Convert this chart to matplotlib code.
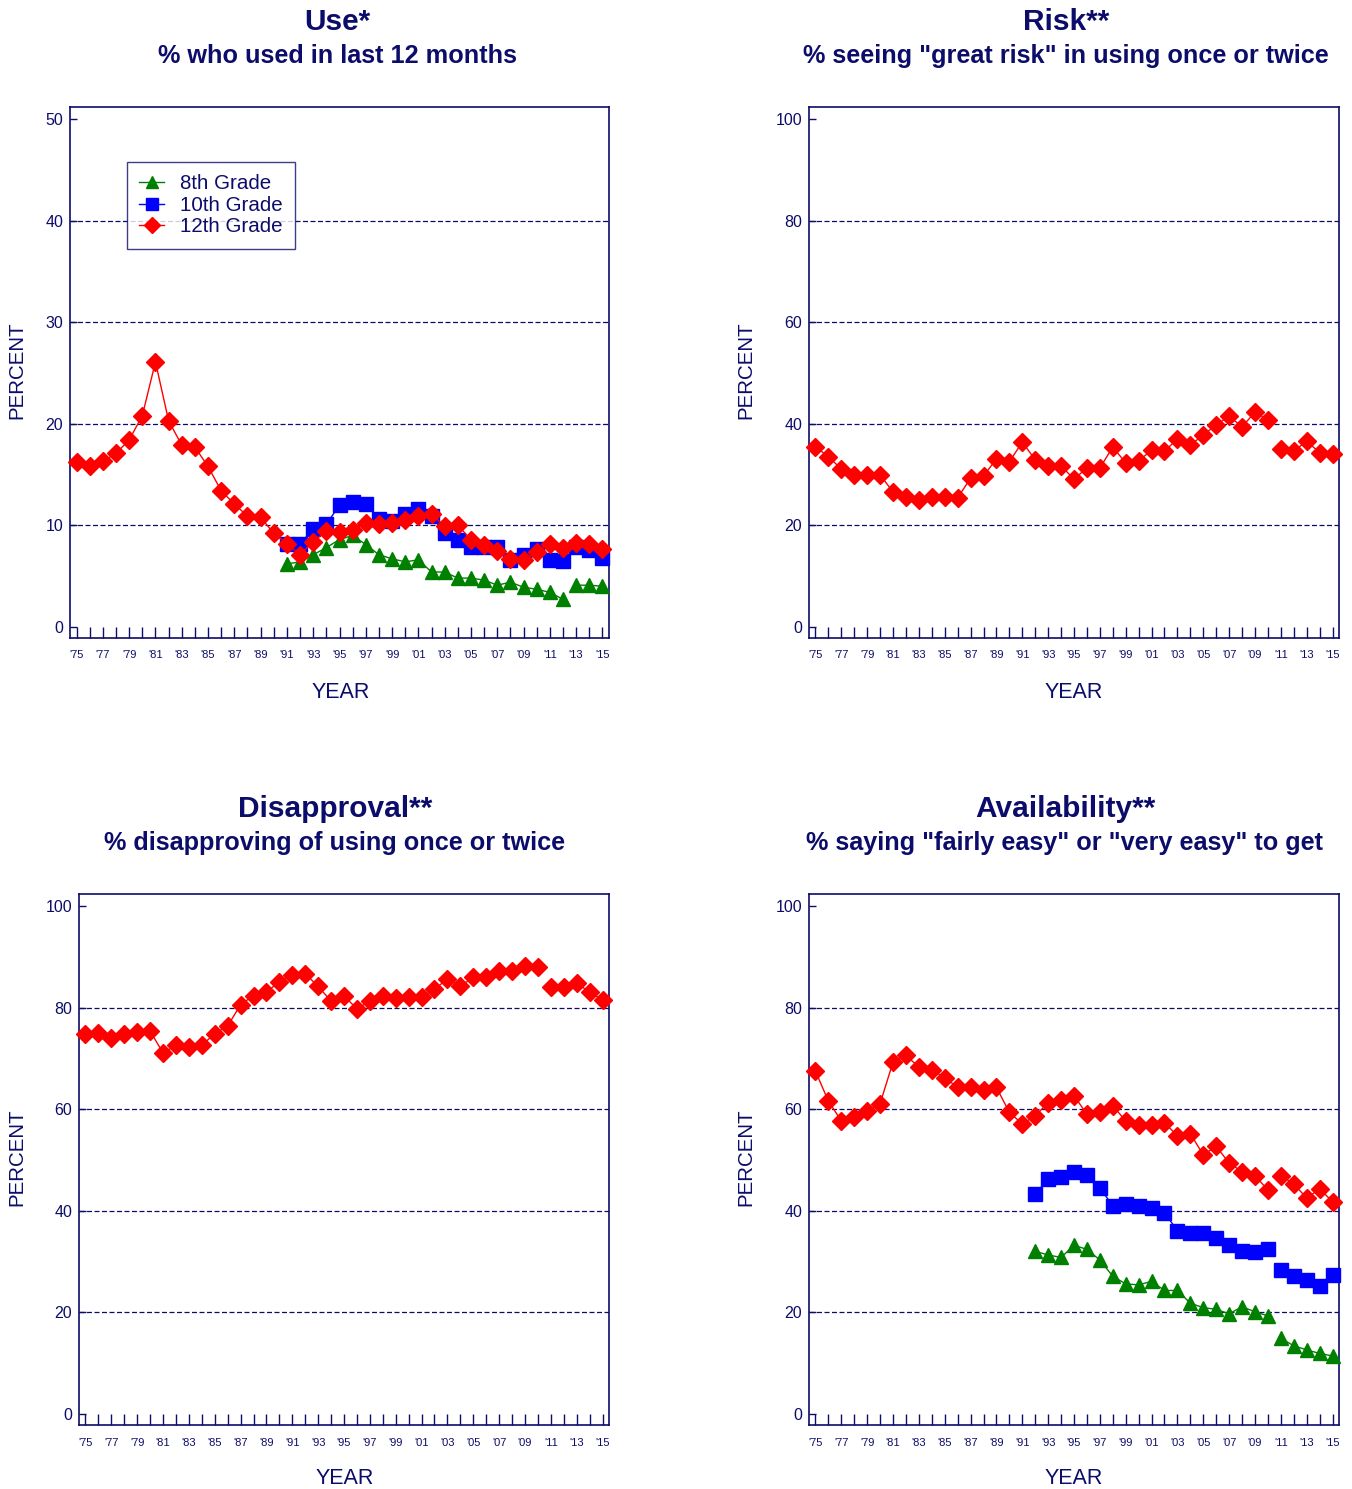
import numpy as np
import matplotlib
matplotlib.use("Agg")
import matplotlib.pyplot as plt
from matplotlib.lines import Line2D

plt.rcParams['font.family'] = ['Liberation Sans', 'DejaVu Sans']

NAVY = '#0c0c6a'
RED = '#ff0000'
BLUE = '#0000ff'
GREEN = '#008000'

years = list(range(1975, 2016))
years_hs = list(range(1991, 2016))
years_av = list(range(1992, 2016))

# ---- Use (% who used in last 12 months) ----
use_12 = [16.2, 15.8, 16.3, 17.1, 18.4, 20.8, 26.1, 20.3, 17.9, 17.7,
          15.8, 13.4, 12.1, 10.9, 10.8, 9.2, 8.2, 7.1, 8.4, 9.4,
          9.3, 9.5, 10.2, 10.1, 10.2, 10.5, 10.9, 11.1, 9.9, 10.0,
          8.6, 8.1, 7.5, 6.7, 6.6, 7.4, 8.2, 7.8, 8.3, 8.2, 7.7]
use_10 = [8.2, 8.2, 9.6, 10.1, 12.0, 12.3, 12.1, 10.6, 10.4, 11.1,
          11.6, 10.9, 9.2, 8.6, 7.9, 7.9, 7.9, 6.6, 7.1, 7.7,
          6.6, 6.5, 7.9, 7.6, 6.8]
use_8 = [6.2, 6.4, 7.1, 7.8, 8.6, 9.0, 8.1, 7.1, 6.7, 6.4,
         6.6, 5.4, 5.4, 4.8, 4.8, 4.6, 4.1, 4.4, 3.9, 3.7,
         3.4, 2.7, 4.1, 4.1, 4.0]

# ---- Risk (12th grade) ----
risk_12 = [35.5, 33.5, 31.1, 29.9, 29.9, 29.9, 26.6, 25.6, 25.0, 25.6,
           25.6, 25.4, 29.3, 29.7, 33.1, 32.5, 36.4, 32.9, 31.7, 31.7,
           29.1, 31.3, 31.3, 35.4, 32.3, 32.7, 34.8, 34.6, 37.0, 35.8,
           37.8, 39.8, 41.5, 39.4, 42.3, 40.7, 35.0, 34.6, 36.6, 34.3, 34.1]

# ---- Disapproval (12th grade) ----
disapp_12 = [74.8, 75.1, 74.1, 74.8, 75.2, 75.4, 71.1, 72.6, 72.2, 72.6,
             74.9, 76.4, 80.6, 82.4, 83.1, 85.1, 86.4, 86.7, 84.2, 81.3,
             82.3, 79.8, 81.3, 82.4, 82.0, 82.2, 82.2, 83.6, 85.7, 84.2,
             86.0, 86.1, 87.2, 87.2, 88.3, 88.0, 84.0, 84.0, 84.8, 83.1, 81.5]

# ---- Availability ----
avail_12 = [67.5, 61.6, 57.7, 58.4, 59.7, 61.1, 69.3, 70.6, 68.3, 67.8,
            66.2, 64.3, 64.4, 63.7, 64.3, 59.4, 57.1, 58.7, 61.3, 61.8,
            62.7, 59.0, 59.5, 60.7, 57.7, 56.9, 56.9, 57.3, 54.8, 55.2,
            51.0, 52.7, 49.4, 47.7, 46.9, 44.1, 46.9, 45.3, 42.5, 44.3, 41.8]
avail_10 = [43.3, 46.3, 46.6, 47.7, 47.1, 44.5, 41.0, 41.3, 40.9, 40.6,
            39.6, 36.1, 35.6, 35.6, 34.6, 33.2, 32.1, 31.9, 32.5, 28.4,
            27.1, 26.3, 25.2, 27.3]
avail_8 = [32.0, 31.3, 30.8, 33.2, 32.4, 30.3, 27.1, 25.6, 25.4, 26.1,
           24.3, 24.3, 21.8, 20.9, 20.6, 19.7, 21.1, 20.1, 19.3, 14.9,
           13.4, 12.6, 11.9, 11.4]

xtick_labels = ["'%02d" % (y % 100) for y in range(1975, 2016, 2)]

W, H = 1352, 1489
fig = plt.figure(figsize=(W / 100, H / 100), dpi=100)


def px_axes(x0, y0, x1, y1):
    return fig.add_axes([x0 / W, 1 - y1 / H, (x1 - x0) / W, (y1 - y0) / H])


def plot_series(ax, xs, ys, color, marker, ms, break_after=None):
    xs = np.array(xs)
    ys = np.array(ys, dtype=float)
    if break_after is None:
        segs = [(xs, ys)]
    else:
        m = xs <= break_after
        segs = [(xs[m], ys[m]), (xs[~m], ys[~m])]
    for sx, sy in segs:
        ax.plot(sx, sy, color=color, lw=1.0, marker=marker, ms=ms,
                markeredgecolor=color, markerfacecolor=color, zorder=3,
                clip_on=False)


def style_axes(ax, ymax, step):
    ax.set_xlim(1974.5, 2015.5)
    pad_lo = ymax * 0.022
    pad_hi = ymax * 0.024
    ax.set_ylim(-pad_lo, ymax + pad_hi)
    for s in ax.spines.values():
        s.set_color(NAVY)
        s.set_linewidth(1.2)
    ax.set_xticks(range(1975, 2016, 2))
    ax.set_xticklabels(xtick_labels)
    ax.set_xticks(range(1975, 2016), minor=True)
    ax.tick_params(axis='x', which='both', direction='in', length=8,
                   width=1.0, color=NAVY, labelcolor=NAVY, labelsize=8,
                   pad=9)
    ticks = np.arange(0, ymax + 0.1, step)
    ax.set_yticks(ticks)
    ax.set_yticklabels([str(int(t)) for t in ticks])
    ax.tick_params(axis='y', direction='in', length=5, width=1.0,
                   color=NAVY, labelcolor=NAVY, labelsize=11.5, pad=5)
    for t in ticks[1:-1]:
        ax.axhline(t, color=NAVY, lw=0.9, ls=(0, (4, 2)), zorder=1)
    ax.set_facecolor('white')


MS_D, MS_S, MS_T = 9.5, 10, 10

# Top-left: Use
ax1 = px_axes(70, 107, 609, 638)
style_axes(ax1, 50, 10)
plot_series(ax1, years_hs, use_8, GREEN, '^', MS_T, break_after=2012)
plot_series(ax1, years_hs, use_10, BLUE, 's', MS_S)
plot_series(ax1, years, use_12, RED, 'D', MS_D)
handles = [Line2D([], [], color=GREEN, marker='^', ms=9, lw=1.0),
           Line2D([], [], color=BLUE, marker='s', ms=9, lw=1.0),
           Line2D([], [], color=RED, marker='D', ms=8.5, lw=1.0)]
leg = ax1.legend(handles, ['8th Grade', '10th Grade', '12th Grade'],
                 loc='upper left', bbox_to_anchor=((127 - 70) / 539, (638 - 162) / 531),
                 borderaxespad=0, frameon=True, fancybox=False,
                 edgecolor=NAVY, fontsize=14.8, labelcolor=NAVY,
                 handlelength=1.2, handletextpad=0.8, labelspacing=0.12,
                 borderpad=0.6)
leg.get_frame().set_linewidth(1.0)

# Top-right: Risk
ax2 = px_axes(809, 107, 1339, 638)
style_axes(ax2, 100, 20)
plot_series(ax2, years, risk_12, RED, 'D', MS_D, break_after=2010)

# Bottom-left: Disapproval
ax3 = px_axes(79, 894, 609, 1425)
style_axes(ax3, 100, 20)
plot_series(ax3, years, disapp_12, RED, 'D', MS_D, break_after=2010)

# Bottom-right: Availability
ax4 = px_axes(809, 894, 1339, 1425)
style_axes(ax4, 100, 20)
plot_series(ax4, years_av, avail_8, GREEN, '^', MS_T, break_after=2010)
plot_series(ax4, years_av, avail_10, BLUE, 's', MS_S, break_after=2010)
plot_series(ax4, years, avail_12, RED, 'D', MS_D, break_after=2010)


def ftext(x, y, s, **kw):
    fig.text(x / W, 1 - y / H, s, ha='center', va='center', color=NAVY, **kw)


titles = [
    (337, 22, 'Use*', 56, '% who used in last 12 months'),
    (1066, 22, 'Risk**', 56, '% seeing "great risk" in using once or twice'),
    (335, 809, 'Disapproval**', 843, '% disapproving of using once or twice'),
    (1065, 809, 'Availability**', 843, '% saying "fairly easy" or "very easy" to get'),
]
for x, y, t, y2, st in titles:
    ftext(x, y, t, fontsize=21.5, fontweight='bold')
    ftext(x, y2, st, fontsize=18.2, fontweight='bold')

for x, y in [(17, 370), (746, 370), (17, 1157), (746, 1157)]:
    ftext(x, y, 'PERCENT', fontsize=14.8, rotation=90)
for x, y in [(341, 692), (1074, 692), (345, 1479), (1074, 1479)]:
    ftext(x, y, 'YEAR', fontsize=15.5)

fig.savefig('out.png', dpi=100, facecolor='white')
